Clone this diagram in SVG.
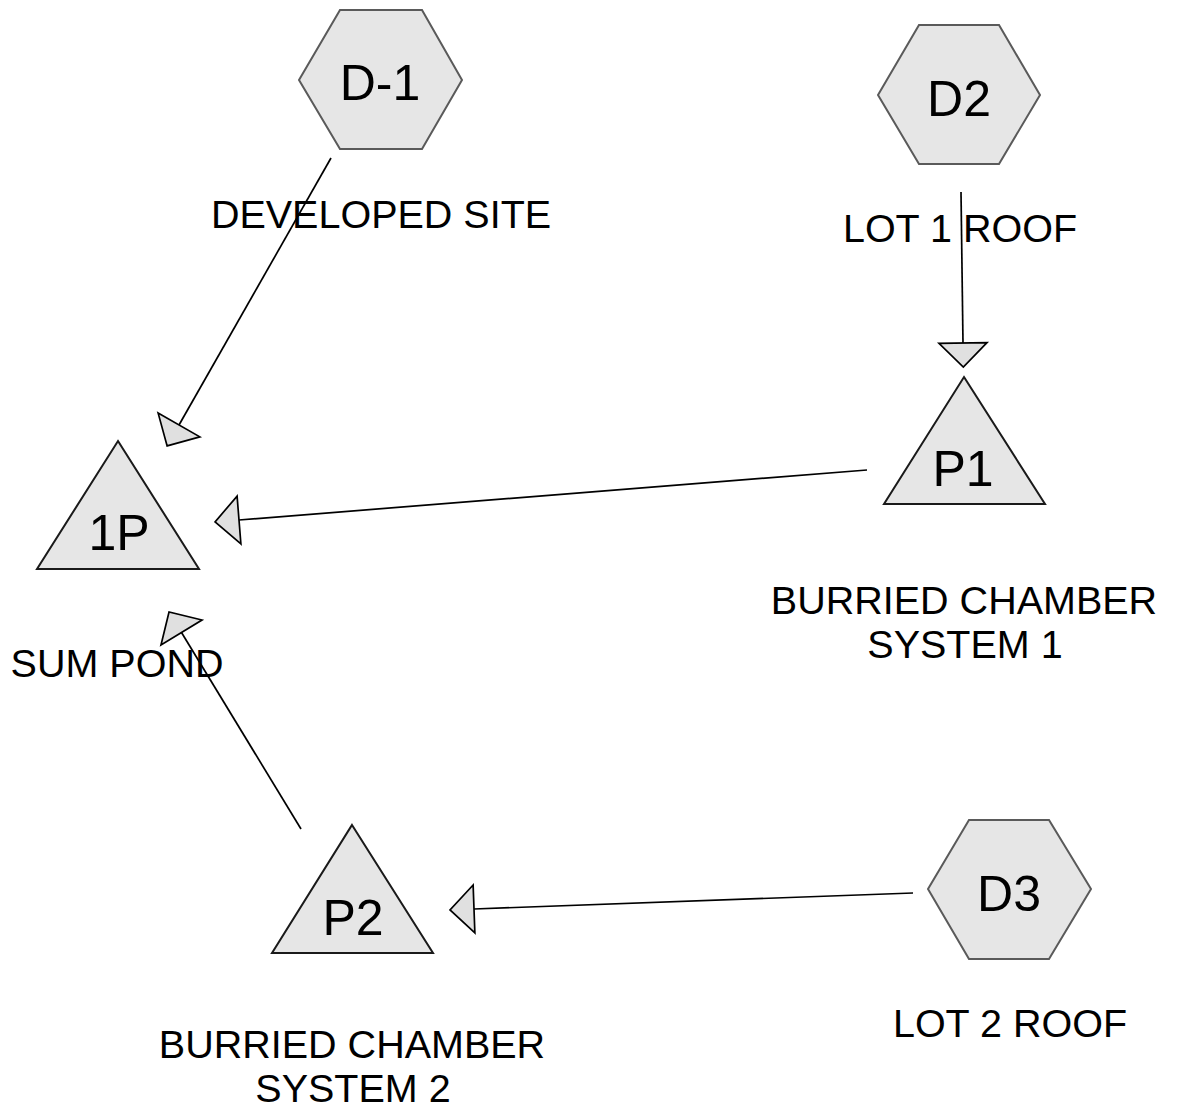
<svg xmlns="http://www.w3.org/2000/svg" width="1177" height="1116" viewBox="0 0 1177 1116">
<style>
.hex{fill:#e6e6e6;stroke:#5a5a5a;stroke-width:2;stroke-linejoin:miter}
.tri{fill:#e6e6e6;stroke:#1a1a1a;stroke-width:2;stroke-linejoin:miter}
.big{font-family:"Liberation Sans",Arial,sans-serif;font-size:50px;fill:#000;text-anchor:middle}
.lbl{font-family:"Liberation Sans",Arial,sans-serif;font-size:39.5px;fill:#000;text-anchor:middle}
.edge{stroke:#000;stroke-width:1.7;fill:none}
</style>
<defs>
<marker id="ah" markerUnits="userSpaceOnUse" viewBox="-3 -27 30 54" markerWidth="30" markerHeight="54" refX="0" refY="0" orient="auto">
<path d="M0,-24 L24,0 L0,24 Z" fill="#e0e0e0" stroke="#000" stroke-width="1.7"/>
</marker>
</defs>
<g id="connectors">
<line class="edge" x1="331" y1="158" x2="179" y2="425" marker-end="url(#ah)"/>
<line class="edge" x1="867" y1="470" x2="239" y2="520" marker-end="url(#ah)"/>
<line class="edge" x1="301" y1="829" x2="181.5" y2="632.5" marker-end="url(#ah)"/>
<line class="edge" x1="961" y1="192" x2="963" y2="343" marker-end="url(#ah)"/>
<line class="edge" x1="913" y1="893" x2="474" y2="909" marker-end="url(#ah)"/>
</g>
<g id="D-1">
<polygon class="hex" points="340,10 422,10 462,80 422,149 340,149 299,80"/>
<text class="big" x="380" y="100">D-1</text>
</g>
<g id="D2">
<polygon class="hex" points="919,25 999,25 1040,95 999,164 919,164 878,95"/>
<text class="big" x="959" y="116">D2</text>
</g>
<g id="D3">
<polygon class="hex" points="969,820 1049,820 1091,889 1049,959 969,959 928,889"/>
<text class="big" x="1009" y="911">D3</text>
</g>
<g id="1P">
<polygon class="tri" points="118,441 199,569 37,569"/>
<text class="big" x="119" y="550">1P</text>
</g>
<g id="P1">
<polygon class="tri" points="964,377 1045,504 884,504"/>
<text class="big" x="963" y="486">P1</text>
</g>
<g id="P2">
<polygon class="tri" points="352,825 433,953 272,953"/>
<text class="big" x="353" y="935">P2</text>
</g>
<g id="labels">
<text class="lbl" x="381" y="228">DEVELOPED SITE</text>
<text class="lbl" x="960" y="242">LOT 1 ROOF</text>
<text class="lbl" x="964" y="614">BURRIED CHAMBER</text>
<text class="lbl" x="965" y="658">SYSTEM 1</text>
<text class="lbl" x="117" y="677">SUM POND</text>
<text class="lbl" x="352" y="1058">BURRIED CHAMBER</text>
<text class="lbl" x="353" y="1102">SYSTEM 2</text>
<text class="lbl" x="1010" y="1037">LOT 2 ROOF</text>
</g>
</svg>
